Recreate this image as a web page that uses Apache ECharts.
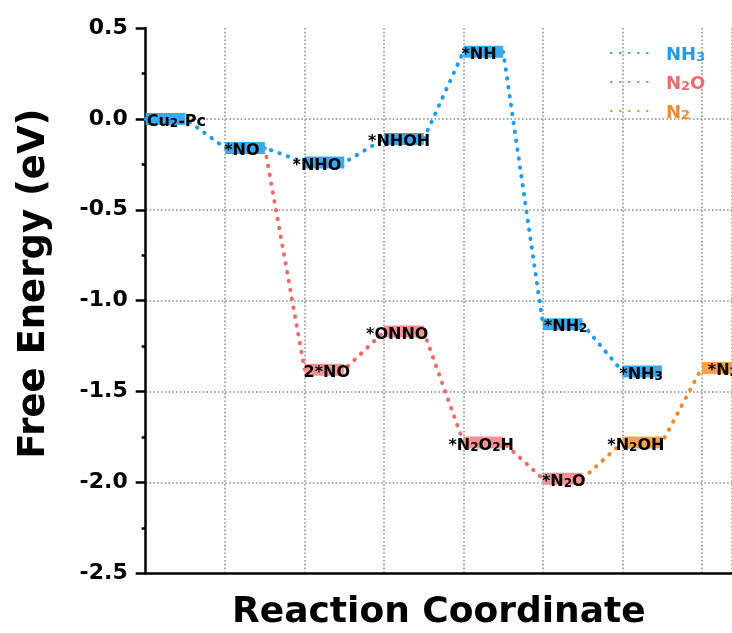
<!DOCTYPE html>
<html>
<head>
<meta charset="utf-8">
<script src="https://cdn.jsdelivr.net/npm/echarts@6/dist/echarts.min.js"></script>
<style>
  html, body { margin: 0; padding: 0; background: #fff; }
  #chart { width: 732px; height: 633px; }
</style>
</head>
<body>
<div id="chart"></div>
<script>
// NH3 pathway (step index along the reaction coordinate, free energy in eV)
const nh3Labels = ['Cu2-Pc', '*NO', '*NHO', '*NHOH', '*NH', '*NH2', '*NH3'];
const nh3Step = [0, 1, 2, 3, 4, 5, 6];
const nh3Energy = [0.00, -0.16, -0.24, -0.11, 0.37, -1.13, -1.39];

// N2O pathway, branching off after *NO
const n2oLabels = ['2*NO', '*ONNO', '*N2O2H', '*N2O'];
const n2oStep = [2, 3, 4, 5];
const n2oEnergy = [-1.38, -1.17, -1.78, -1.98];

// N2 pathway, continuing from *N2O
const n2Labels = ['*N2OH', '*N2'];
const n2Step = [6, 7];
const n2Energy = [-1.78, -1.37];

const yTicks = { min: -2.5, max: 0.5, step: 0.5 };

// ---- styling ----
const FONT = 'DejaVu Sans';
const BLUE = '#1f9bef', BLUE_BAR = '#3aa9f0';
const RED = '#ef6b6b', RED_BAR = '#f59393';
const ORANGE = '#f08a2c', ORANGE_BAR = '#f5a24f';
const LEVEL_WIDTH = 0.5;      // width of an energy level in step units
const LEVEL_THICK = 12;       // px
// horizontal nudge of each state label (px) relative to the level start
const nh3Shift = [1, -1, -12, -16, -2, 1, -3];
const n2oShift = [-1, -18, -15, -1];
const n2Shift = [-15, 6];

// "N2O2H" -> rich text with subscripted digits that follow a letter
function toRich(s) {
  const parts = s.split(/(?<=[A-Za-z])(\d+)/);
  return parts.map((p, i) => p === '' ? '' : (i % 2 ? '{s|' + p + '}' : '{m|' + p + '}')).join('');
}

// connector path: each level contributes its start and end point
function pathOf(steps, energies, from) {
  const pts = from ? [from] : [];
  steps.forEach((s, i) => {
    pts.push([s, energies[i]]);
    pts.push([s + LEVEL_WIDTH, energies[i]]);
  });
  return pts;
}

const nh3Path = pathOf(nh3Step, nh3Energy).slice(0, -1);
const n2oPath = pathOf(n2oStep, n2oEnergy, [nh3Step[1] + LEVEL_WIDTH, nh3Energy[1]]).slice(0, -1);
const n2Path = pathOf(n2Step, n2Energy, [n2oStep[3] + LEVEL_WIDTH, n2oEnergy[3]]).slice(0, -1);

function dotted(color) {
  return { color: color, width: 4, type: [0.5, 8.5], cap: 'round' };
}

function lineSeries(name, color, path) {
  return {
    name: name,
    type: 'line',
    data: path,
    symbol: 'none',
    showSymbol: false,
    silent: true,
    z: 2,
    itemStyle: { color: color },
    lineStyle: dotted(color)
  };
}

const labelRich = {
  m: { fontSize: 16, fontWeight: 'bold', fontFamily: FONT, lineHeight: 20, verticalAlign: 'bottom', fill: '#000' },
  s: { fontSize: 12, fontWeight: 'bold', fontFamily: FONT, lineHeight: 5, verticalAlign: 'bottom', fill: '#000' }
};

function levelSeries(barColor, steps, energies, labels, shifts) {
  return {
    type: 'custom',
    silent: true,
    z: 3,
    clip: false,
    data: steps.map((s, i) => [s, energies[i]]),
    encode: { x: 0, y: 1 },
    renderItem: function (params, api) {
      const i = params.dataIndex;
      const x0 = api.value(0), e = api.value(1);
      const a = api.coord([x0, e]);
      const b = api.coord([x0 + LEVEL_WIDTH, e]);
      return {
        type: 'group',
        children: [
          {
            type: 'rect',
            shape: { x: a[0], y: a[1] - LEVEL_THICK / 2, width: b[0] - a[0], height: LEVEL_THICK },
            style: { fill: barColor }
          },
          {
            type: 'text',
            x: a[0] + shifts[i],
            y: a[1] + 1,
            style: {
              text: toRich(labels[i]),
              rich: labelRich,
              align: 'left',
              verticalAlign: 'middle',
              fill: '#000',
              fontSize: 16,
              fontWeight: 'bold',
              fontFamily: FONT
            }
          }
        ]
      };
    }
  };
}

const chart = echarts.init(document.getElementById('chart'), null, { renderer: 'canvas' });

const gridLine = { color: '#8a8a8a', width: 1.5, type: [1.6, 2.2] };

chart.setOption({
  backgroundColor: '#fff',
  animation: false,
  grid: { left: 145.7, right: 0, top: 28, bottom: 59.7, containLabel: false, outerBoundsMode: 'none' },
  legend: {
    orient: 'vertical',
    left: 610,
    top: 46,
    padding: 0,
    itemWidth: 44,
    itemHeight: 4,
    itemGap: 11,
    selectedMode: false,
    itemStyle: { opacity: 0 },
    textStyle: {
      fontFamily: FONT,
      fontWeight: 'bold',
      fontSize: 18,
      padding: [0, 0, 0, 6],
      rich: {
        m: { fontSize: 18, fontWeight: 'bold', fontFamily: FONT, lineHeight: 22, verticalAlign: 'bottom' },
        s: { fontSize: 13, fontWeight: 'bold', fontFamily: FONT, lineHeight: 5, verticalAlign: 'bottom' }
      }
    },
    formatter: name => toRich(name),
    data: [
      { name: 'NH3', textStyle: { color: BLUE } },
      { name: 'N2O', textStyle: { color: RED } },
      { name: 'N2', textStyle: { color: ORANGE } }
    ]
  },
  xAxis: {
    type: 'value',
    min: 0,
    max: 7.38,
    interval: 1,
    name: 'Reaction Coordinate',
    nameLocation: 'middle',
    nameGap: 21,
    nameTextStyle: { fontFamily: FONT, fontWeight: 'bold', fontSize: 36, color: '#000' },
    axisLine: { show: true, onZero: false, lineStyle: { color: '#000', width: 2.5 } },
    axisTick: { show: false },
    axisLabel: { show: false },
    splitLine: { show: true, showMinLine: false, lineStyle: gridLine }
  },
  yAxis: {
    type: 'value',
    min: yTicks.min,
    max: yTicks.max,
    interval: yTicks.step,
    name: 'Free Energy (eV)',
    nameLocation: 'middle',
    nameRotate: 90,
    nameGap: 93,
    nameTextStyle: { fontFamily: FONT, fontWeight: 'bold', fontSize: 37, color: '#000', padding: [0, 0, 0, 34] },
    axisLine: { show: true, lineStyle: { color: '#000', width: 2.5 } },
    axisTick: { show: true, inside: false, length: 10, lineStyle: { color: '#000', width: 2.5 } },
    minorTick: { show: true, splitNumber: 2, length: 4, lineStyle: { color: '#000', width: 2.5 } },
    axisLabel: {
      margin: 18,
      fontFamily: FONT,
      fontWeight: 'bold',
      fontSize: 22,
      color: '#000',
      formatter: v => v.toFixed(1)
    },
    splitLine: { show: true, showMinLine: false, showMaxLine: false, lineStyle: gridLine }
  },
  series: [
    lineSeries('NH3', BLUE, nh3Path),
    lineSeries('N2O', RED, n2oPath),
    lineSeries('N2', ORANGE, n2Path),
    levelSeries(BLUE_BAR, nh3Step, nh3Energy, nh3Labels, nh3Shift),
    levelSeries(RED_BAR, n2oStep, n2oEnergy, n2oLabels, n2oShift),
    levelSeries(ORANGE_BAR, n2Step, n2Energy, n2Labels, n2Shift)
  ]
});
</script>
</body>
</html>
